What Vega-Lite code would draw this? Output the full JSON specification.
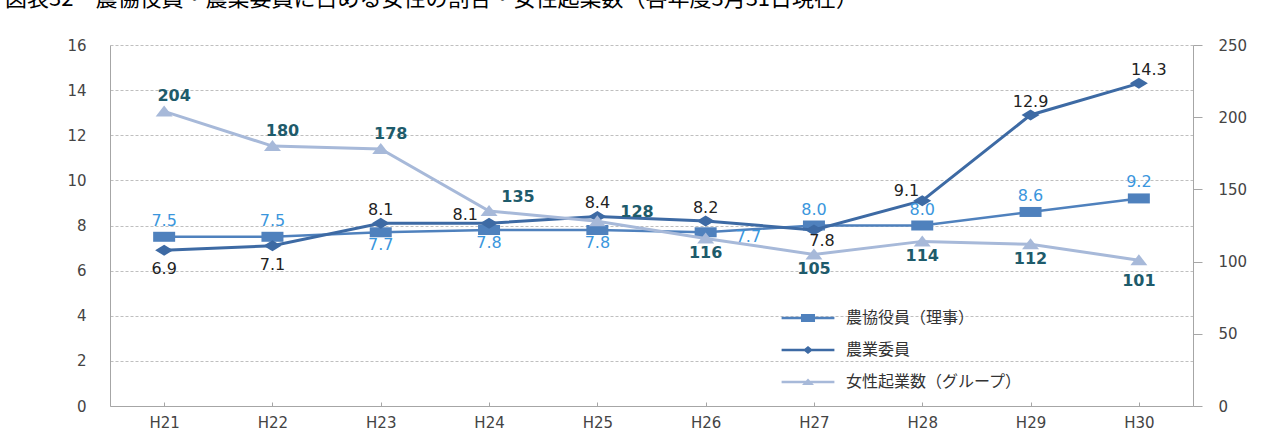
{
  "$schema": "https://vega.github.io/schema/vega-lite/v6.json",
  "width": 1083,
  "height": 361,
  "autosize": {"type": "none"},
  "padding": {"left": 110, "top": 45, "right": 86, "bottom": 28},
  "background": "white",
  "title": {
    "text": "図表32　農協役員・農業委員に占める女性の割合・女性起業数（各年度3月31日現在）",
    "anchor": "start",
    "frame": "group",
    "orient": "top",
    "offset": 0,
    "dx": -105,
    "dy": -27,
    "font": "Noto Sans CJK JP",
    "fontSize": 22,
    "fontWeight": "normal",
    "color": "#000000"
  },
  "config": {
    "view": {"stroke": null},
    "axis": {"labelFont": "DejaVu Sans", "labelFontSize": 15, "labelColor": "#444444", "domainColor": "#A6A6A6", "tickColor": "#A6A6A6", "title": null},
    "text": {"font": "DejaVu Sans", "fontSize": 16}
  },
  "datasets": {
    "d": [
      {"year": "H21", "series": "農協役員（理事）", "value": 7.5},
      {"year": "H22", "series": "農協役員（理事）", "value": 7.5},
      {"year": "H23", "series": "農協役員（理事）", "value": 7.7},
      {"year": "H24", "series": "農協役員（理事）", "value": 7.8},
      {"year": "H25", "series": "農協役員（理事）", "value": 7.8},
      {"year": "H26", "series": "農協役員（理事）", "value": 7.7},
      {"year": "H27", "series": "農協役員（理事）", "value": 8.0},
      {"year": "H28", "series": "農協役員（理事）", "value": 8.0},
      {"year": "H29", "series": "農協役員（理事）", "value": 8.6},
      {"year": "H30", "series": "農協役員（理事）", "value": 9.2},
      {"year": "H21", "series": "農業委員", "value": 6.9},
      {"year": "H22", "series": "農業委員", "value": 7.1},
      {"year": "H23", "series": "農業委員", "value": 8.1},
      {"year": "H24", "series": "農業委員", "value": 8.1},
      {"year": "H25", "series": "農業委員", "value": 8.4},
      {"year": "H26", "series": "農業委員", "value": 8.2},
      {"year": "H27", "series": "農業委員", "value": 7.8},
      {"year": "H28", "series": "農業委員", "value": 9.1},
      {"year": "H29", "series": "農業委員", "value": 12.9},
      {"year": "H30", "series": "農業委員", "value": 14.3},
      {"year": "H21", "series": "女性起業数（グループ）", "value": 204},
      {"year": "H22", "series": "女性起業数（グループ）", "value": 180},
      {"year": "H23", "series": "女性起業数（グループ）", "value": 178},
      {"year": "H24", "series": "女性起業数（グループ）", "value": 135},
      {"year": "H25", "series": "女性起業数（グループ）", "value": 128},
      {"year": "H26", "series": "女性起業数（グループ）", "value": 116},
      {"year": "H27", "series": "女性起業数（グループ）", "value": 105},
      {"year": "H28", "series": "女性起業数（グループ）", "value": 114},
      {"year": "H29", "series": "女性起業数（グループ）", "value": 112},
      {"year": "H30", "series": "女性起業数（グループ）", "value": 101}
    ]
  },
  "data": {"name": "d"},
  "layer": [
    {
      "encoding": {
        "x": {"field": "year", "type": "ordinal", "scale": {"type": "point", "padding": 0.5},
              "axis": {"labelAngle": 0, "tickSize": -4, "labelPadding": 13, "grid": false, "domainColor": "#A6A6A6"}},
        "y": {"field": "value", "type": "quantitative", "scale": {"domain": [0, 16], "nice": false, "zero": true},
              "axis": {"orient": "left", "values": [0, 2, 4, 6, 8, 10, 12, 14, 16], "ticks": false, "labelPadding": 24,
                       "grid": true, "gridColor": "#BFBFBF", "gridDash": [3, 2], "gridWidth": 1}}
      },
      "layer": [
        {"transform": [{"filter": "datum.series === '農協役員（理事）'"}],
         "mark": {"type": "line", "color": "#4F81BD", "strokeWidth": 2.5}},
        {"transform": [{"filter": "datum.series === '農協役員（理事）'"}],
         "mark": {"type": "point", "filled": true, "opacity": 1, "color": "#4F81BD", "size": 100, "shape": "M-2.2,-1H2.2V1H-2.2Z"}},
        {"transform": [{"filter": "datum.series === '農業委員'"}],
         "mark": {"type": "line", "color": "#3D6AA4", "strokeWidth": 3}},
        {"transform": [{"filter": "datum.series === '農業委員'"}],
         "mark": {"type": "point", "filled": true, "opacity": 1, "color": "#3D6AA4", "size": 100, "shape": "M0,-1.1L1.8,0L0,1.1L-1.8,0Z"}},
        {"transform": [{"filter": "datum.series === '農協役員（理事）' && indexof(['H21','H22','H27','H28','H29','H30'], datum.year) >= 0"}],
         "mark": {"type": "text", "color": "#3A96DD", "dy": -16, "baseline": "middle"},
         "encoding": {"text": {"field": "value", "type": "quantitative", "format": ".1f"}}},
        {"transform": [{"filter": "datum.series === '農協役員（理事）' && indexof(['H23','H24','H25'], datum.year) >= 0"}],
         "mark": {"type": "text", "color": "#3A96DD", "dy": 13, "baseline": "middle"},
         "encoding": {"text": {"field": "value", "type": "quantitative", "format": ".1f"}}},
        {"transform": [{"filter": "datum.series === '農協役員（理事）' && datum.year === 'H26'"}],
         "mark": {"type": "text", "color": "#3A96DD", "dx": 30, "dy": 5, "align": "left", "baseline": "middle"},
         "encoding": {"text": {"field": "value", "type": "quantitative", "format": ".1f"}}},
        {"transform": [{"filter": "datum.series === '農業委員' && indexof(['H21','H22'], datum.year) >= 0"}],
         "mark": {"type": "text", "color": "#222222", "dy": 19, "baseline": "middle"},
         "encoding": {"text": {"field": "value", "type": "quantitative", "format": ".1f"}}},
        {"transform": [{"filter": "datum.series === '農業委員' && datum.year === 'H27'"}],
         "mark": {"type": "text", "color": "#222222", "dy": 11, "dx": 8, "baseline": "middle"},
         "encoding": {"text": {"field": "value", "type": "quantitative", "format": ".1f"}}},
        {"transform": [{"filter": "datum.series === '農業委員' && indexof(['H23','H25','H26','H29'], datum.year) >= 0"}],
         "mark": {"type": "text", "color": "#222222", "dy": -13, "baseline": "middle"},
         "encoding": {"text": {"field": "value", "type": "quantitative", "format": ".1f"}}},
        {"transform": [{"filter": "datum.series === '農業委員' && datum.year === 'H30'"}],
         "mark": {"type": "text", "color": "#222222", "dy": -13, "dx": 10, "baseline": "middle"},
         "encoding": {"text": {"field": "value", "type": "quantitative", "format": ".1f"}}},
        {"transform": [{"filter": "datum.series === '農業委員' && datum.year === 'H24'"}],
         "mark": {"type": "text", "color": "#222222", "dy": -8, "dx": -11, "align": "right", "baseline": "middle"},
         "encoding": {"text": {"field": "value", "type": "quantitative", "format": ".1f"}}},
        {"transform": [{"filter": "datum.series === '農業委員' && datum.year === 'H28'"}],
         "mark": {"type": "text", "color": "#222222", "dy": -10, "dx": -3, "align": "right", "baseline": "middle"},
         "encoding": {"text": {"field": "value", "type": "quantitative", "format": ".1f"}}},
        {"transform": [{"filter": "false"}],
         "mark": {"type": "point", "filled": true, "opacity": 1},
         "encoding": {
           "fill": {"field": "series", "type": "nominal",
                    "scale": {"domain": ["農協役員（理事）", "農業委員", "女性起業数（グループ）"], "range": ["#4F81BD", "#3D6AA4", "#A7B9D9"]},
                    "legend": {"orient": "none", "legendX": 690, "legendY": 265, "title": null, "symbolSize": 144,
                               "labelOffset": 30, "labelFont": "Noto Sans CJK JP", "labelFontSize": 16, "labelColor": "#333333",
                               "labelLimit": 400, "rowPadding": 16, "symbolStrokeWidth": 0, "symbolOpacity": 1}},
           "shape": {"field": "series", "type": "nominal",
                     "scale": {"domain": ["農協役員（理事）", "農業委員", "女性起業数（グループ）"],
                               "range": ["M-4.4,-0.22H4.4V0.22H-4.4Z M-1.17,-0.67H1.17V0.67H-1.17Z",
                                         "M-4.4,-0.22H4.4V0.22H-4.4Z M0,-0.67L0.83,0L0,0.67L-0.83,0Z",
                                         "M-4.4,-0.22H4.4V0.22H-4.4Z M0,-0.6L1,0.5H-1Z"]}}
         }}
      ]
    },
    {
      "encoding": {
        "x": {"field": "year", "type": "ordinal", "scale": {"type": "point", "padding": 0.5},
              "axis": {"labelAngle": 0, "tickSize": -4, "labelPadding": 13, "grid": false, "domainColor": "#A6A6A6"}},
        "y": {"field": "value", "type": "quantitative", "scale": {"domain": [0, 250], "nice": false, "zero": true},
              "axis": {"orient": "right", "values": [0, 50, 100, 150, 200, 250], "tickSize": 9, "labelPadding": 16, "grid": false}}
      },
      "transform": [{"filter": "datum.series === '女性起業数（グループ）'"}],
      "layer": [
        {"mark": {"type": "line", "color": "#A7B9D9", "strokeWidth": 3}},
        {"mark": {"type": "point", "filled": true, "opacity": 1, "color": "#A7B9D9", "size": 100, "shape": "M0,-1.2L1.7,1H-1.7Z"}},
        {"transform": [{"filter": "indexof(['H21','H22','H23'], datum.year) >= 0"}],
         "mark": {"type": "text", "color": "#1E5B6B", "fontWeight": "bold", "dy": -15, "dx": 10, "baseline": "middle"},
         "encoding": {"text": {"field": "value", "type": "quantitative", "format": "d"}}},
        {"transform": [{"filter": "datum.year === 'H24'"}],
         "mark": {"type": "text", "color": "#1E5B6B", "fontWeight": "bold", "dy": -14, "dx": 29, "baseline": "middle"},
         "encoding": {"text": {"field": "value", "type": "quantitative", "format": "d"}}},
        {"transform": [{"filter": "datum.year === 'H25'"}],
         "mark": {"type": "text", "color": "#1E5B6B", "fontWeight": "bold", "dy": -9, "dx": 23, "align": "left", "baseline": "middle"},
         "encoding": {"text": {"field": "value", "type": "quantitative", "format": "d"}}},
        {"transform": [{"filter": "indexof(['H26','H27','H28','H29'], datum.year) >= 0"}],
         "mark": {"type": "text", "color": "#1E5B6B", "fontWeight": "bold", "dy": 15, "baseline": "middle"},
         "encoding": {"text": {"field": "value", "type": "quantitative", "format": "d"}}},
        {"transform": [{"filter": "datum.year === 'H30'"}],
         "mark": {"type": "text", "color": "#1E5B6B", "fontWeight": "bold", "dy": 21, "baseline": "middle"},
         "encoding": {"text": {"field": "value", "type": "quantitative", "format": "d"}}}
      ]
    }
  ],
  "resolve": {"scale": {"y": "independent"}}
}
